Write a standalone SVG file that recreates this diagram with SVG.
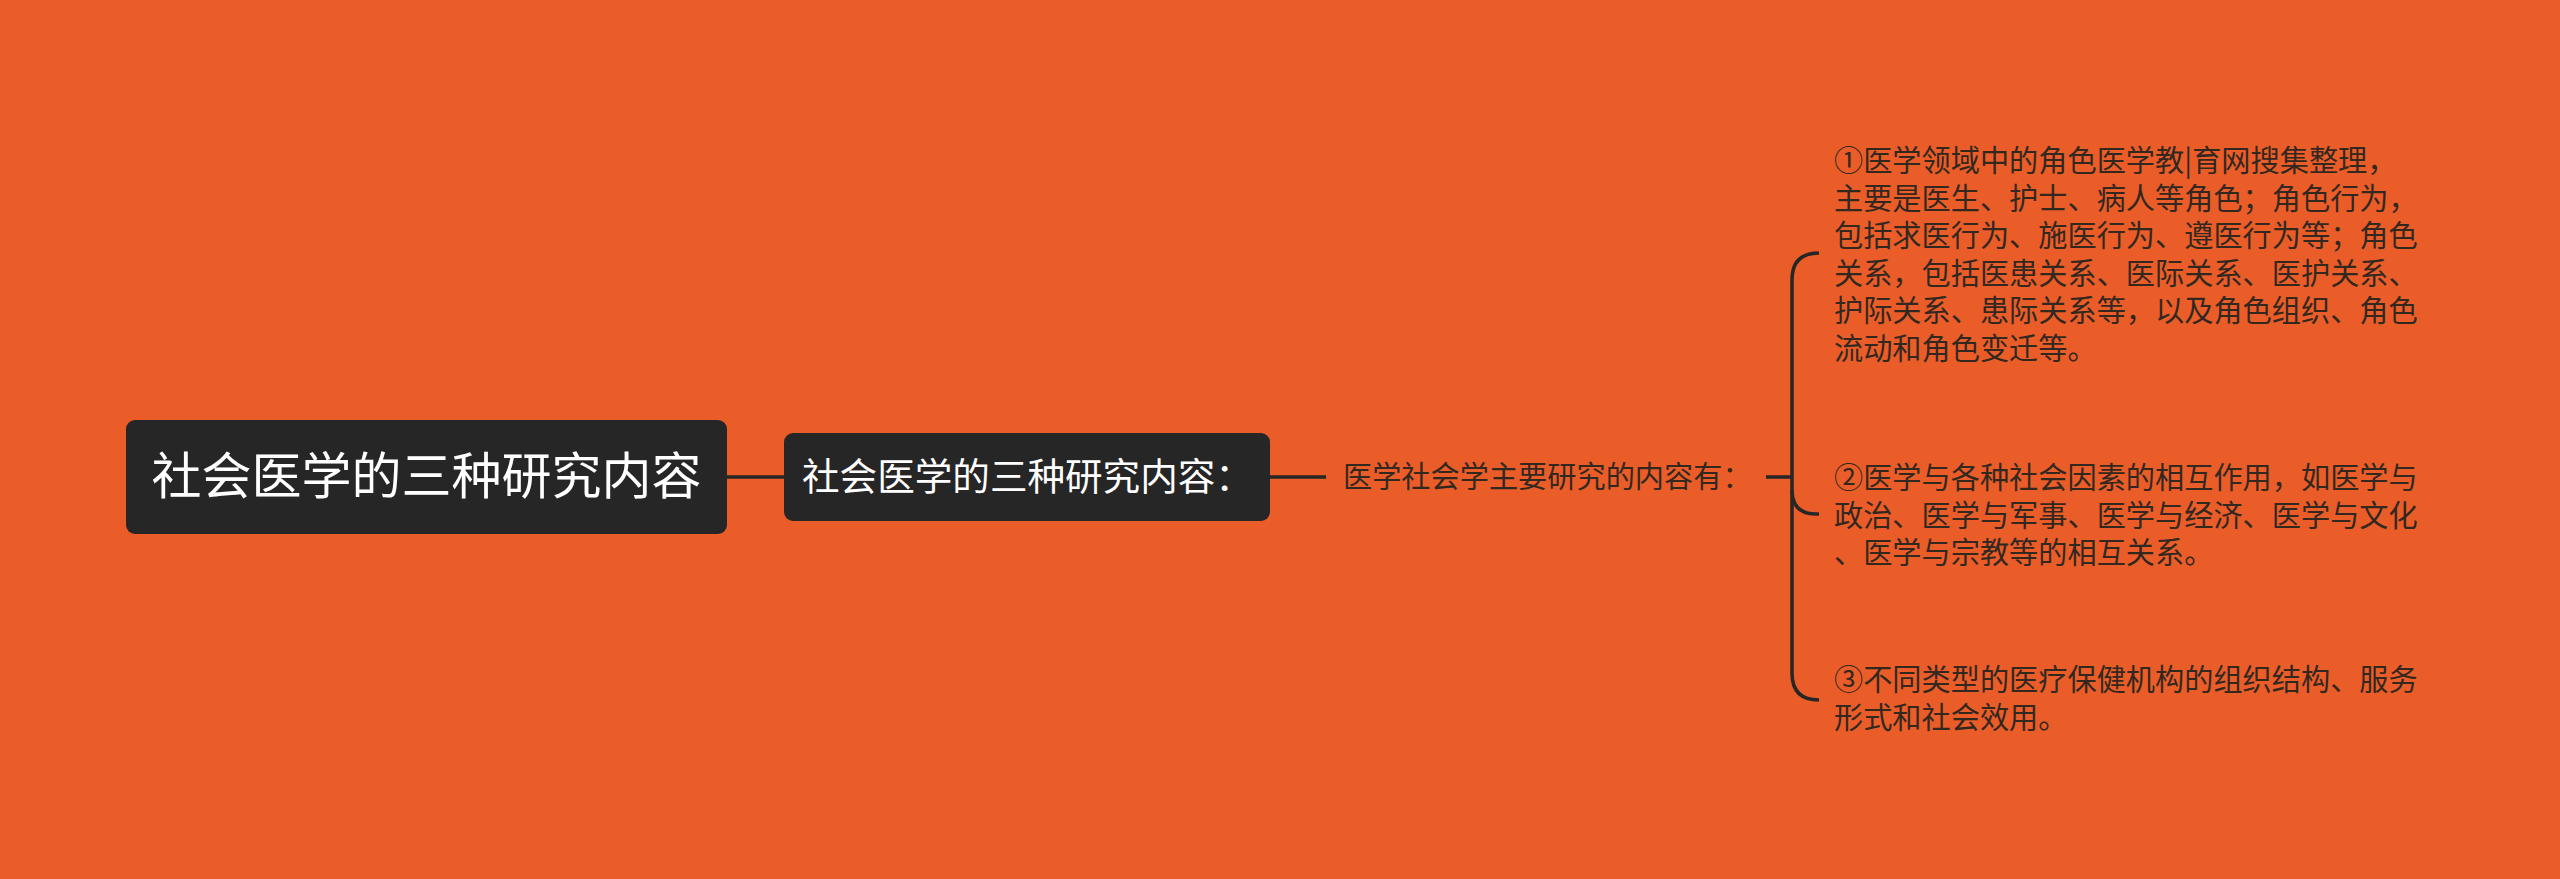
<svg xmlns="http://www.w3.org/2000/svg" width="2560" height="879" viewBox="0 0 2560 879">
<style>
.box{fill:#262626;}
.wt{fill:#ffffff;font-family:"Noto Sans CJK SC","Noto Sans",sans-serif;}
.dt{fill:#33281f;font-family:"Noto Sans CJK SC","Noto Sans",sans-serif;font-size:29.2px;}
.ln{fill:none;stroke:#262626;stroke-width:3.5;stroke-linecap:butt;}
</style>
<rect x="0" y="0" width="2560" height="879" fill="#EA5D29"/>
<g id="connectors">
<path class="ln" d="M727,477 L784,477"/>
<path class="ln" d="M1270,477 L1326,477"/>
<path class="ln" d="M1766,477 L1792,477"/>
<path class="ln" d="M1819,253 Q1792,253 1792,280 L1792,673 Q1792,700 1819,700"/>
<path class="ln" d="M1792,490 Q1792,514 1816,514 L1819,514"/>
</g>
<g id="root">
<rect class="box" x="126" y="420" width="601" height="114" rx="9"/>
<text class="wt" x="426.5" y="494" font-size="50" text-anchor="middle">社会医学的三种研究内容</text>
</g>
<g id="node2">
<rect class="box" x="784" y="433" width="486" height="88" rx="9"/>
<text class="wt" x="802" y="490" font-size="37.6">社会医学的三种研究内容：</text>
</g>
<g id="node3">
<text class="dt" x="1343" y="487">医学社会学主要研究的内容有：</text>
</g>
<g id="leaf1">
<text class="dt" x="1834" y="171">①医学领域中的角色医学教|育网搜集整理，</text>
<text class="dt" x="1834" y="208.5">主要是医生、护士、病人等角色；角色行为，</text>
<text class="dt" x="1834" y="246">包括求医行为、施医行为、遵医行为等；角色</text>
<text class="dt" x="1834" y="283.5">关系，包括医患关系、医际关系、医护关系、</text>
<text class="dt" x="1834" y="321">护际关系、患际关系等，以及角色组织、角色</text>
<text class="dt" x="1834" y="358.5">流动和角色变迁等。</text>
</g>
<g id="leaf2">
<text class="dt" x="1834" y="488">②医学与各种社会因素的相互作用，如医学与</text>
<text class="dt" x="1834" y="525.5">政治、医学与军事、医学与经济、医学与文化</text>
<text class="dt" x="1834" y="563">、医学与宗教等的相互关系。</text>
</g>
<g id="leaf3">
<text class="dt" x="1834" y="690">③不同类型的医疗保健机构的组织结构、服务</text>
<text class="dt" x="1834" y="727.5">形式和社会效用。</text>
</g>
</svg>
